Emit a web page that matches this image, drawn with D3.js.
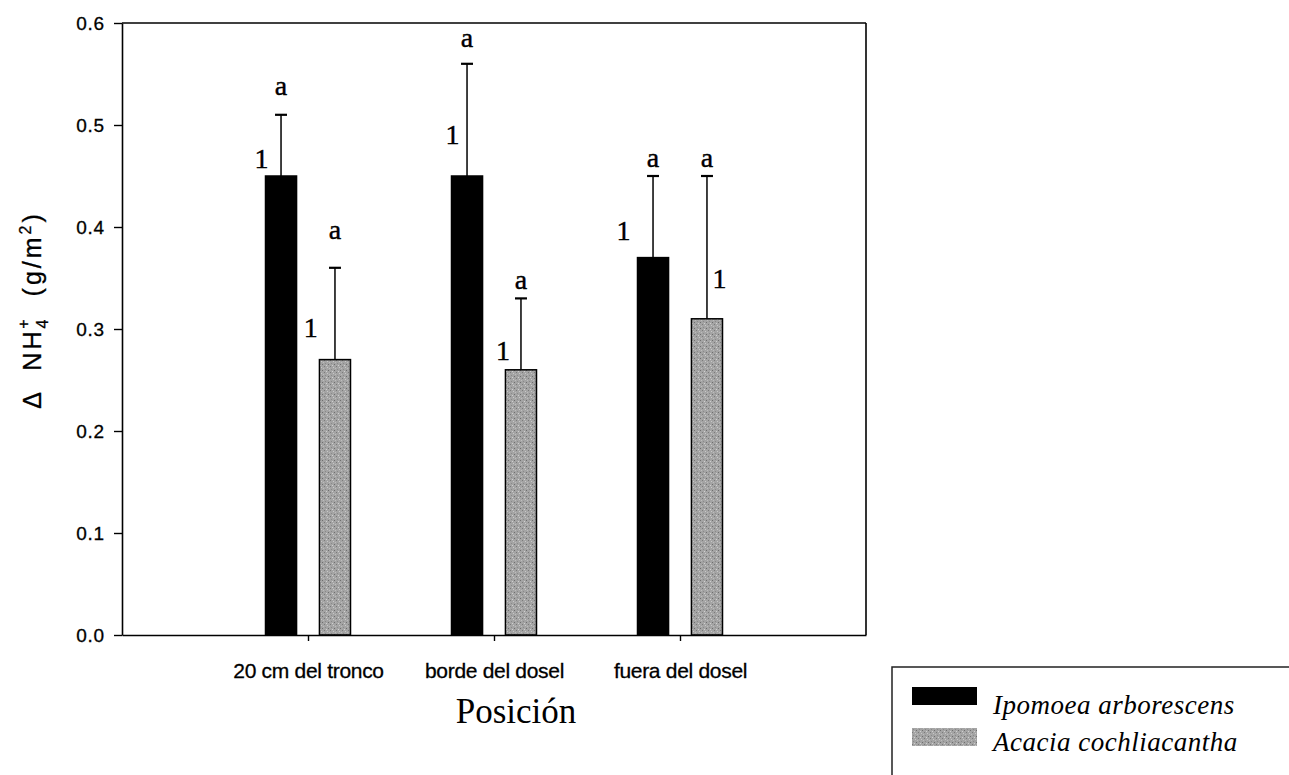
<!DOCTYPE html>
<html>
<head>
<meta charset="utf-8">
<script src="https://cdn.jsdelivr.net/npm/d3@7"></script>
<style>
  html, body { margin: 0; padding: 0; background: #fff; }
  svg { display: block; }
</style>
</head>
<body>
<div id="chart"></div>
<script>
// Categories and series
const categories = ['20 cm del tronco', 'borde del dosel', 'fuera del dosel'];
const seriesNames = ['Ipomoea arborescens', 'Acacia cochliacantha'];
const ipomoea = [0.45, 0.45, 0.37];
const ipomoeaTop = [0.51, 0.56, 0.45];   // top of error bar
const acacia = [0.27, 0.26, 0.31];
const acaciaTop = [0.36, 0.33, 0.45];
const yTicks = [0, 0.1, 0.2, 0.3, 0.4, 0.5, 0.6];

// Significance letters (value units)
const letterA = [[0.529, 0.576, 0.459], [0.388, 0.339, 0.459]];
const letter1 = [[0.458, 0.481, 0.387], [0.292, 0.270, 0.340]];
const letter1Dx = [[-0.105, -0.078, -0.159], [-0.13, -0.097, 0.067]];

const W = 1289, H = 775;
const svg = d3.select('#chart').append('svg')
    .attr('width', W).attr('height', H)
    .style('background', '#fff');

// gray speckled fill
const defs = svg.append('defs');
const pat = defs.append('pattern')
    .attr('id', 'speckle')
    .attr('width', 6).attr('height', 6)
    .attr('patternUnits', 'userSpaceOnUse');
pat.append('rect').attr('width', 6).attr('height', 6).attr('fill', '#a4a4a4');
[[0,0,'#7a7a7a'],[3,1,'#c8c8c8'],[1,3,'#8a8a8a'],[4,4,'#6e6e6e'],[5,2,'#bdbdbd'],[2,5,'#d0d0d0']]
  .forEach(p => pat.append('rect').attr('x', p[0]).attr('y', p[1])
      .attr('width', 1).attr('height', 1).attr('fill', p[2]));

const x = d3.scaleLinear().domain([0, 4]).range([122, 866]);
const y = d3.scaleLinear().domain([0, 0.6]).range([635, 23]);

const barW = 0.167, off = 0.145;
const serif = '"Liberation Serif", "Times New Roman", serif';
const sans = '"Liberation Sans", Arial, sans-serif';
const series = [
  { vals: ipomoea, tops: ipomoeaTop, fill: '#000', dx: -off },
  { vals: acacia, tops: acaciaTop, fill: 'url(#speckle)', dx: off }
];

// frame
const frame = svg.append('g').attr('stroke', '#000').attr('stroke-width', 1.6);
frame.append('line').attr('x1', x(0)).attr('x2', x(4)).attr('y1', y(0.6)).attr('y2', y(0.6));
frame.append('line').attr('x1', x(4)).attr('x2', x(4)).attr('y1', y(0.6)).attr('y2', y(0));

// bars
series.forEach((s, si) => {
  const g = svg.append('g');
  g.selectAll('rect').data(s.vals).enter().append('rect')
    .attr('x', (d, i) => x(i + 1 + s.dx - barW / 2))
    .attr('width', x(barW) - x(0))
    .attr('y', d => y(d))
    .attr('height', d => y(0) - y(d))
    .attr('fill', s.fill)
    .attr('stroke', '#000')
    .attr('stroke-width', 1.5);

  // error bars
  g.selectAll('line.err').data(s.vals).enter().append('line')
    .attr('x1', (d, i) => x(i + 1 + s.dx)).attr('x2', (d, i) => x(i + 1 + s.dx))
    .attr('y1', d => y(d)).attr('y2', (d, i) => y(s.tops[i]))
    .attr('stroke', '#000').attr('stroke-width', 1.5);
  g.selectAll('line.cap').data(s.tops).enter().append('line')
    .attr('x1', (d, i) => x(i + 1 + s.dx) - 6).attr('x2', (d, i) => x(i + 1 + s.dx) + 6)
    .attr('y1', d => y(d)).attr('y2', d => y(d))
    .attr('stroke', '#000').attr('stroke-width', 2.2);

  // letters
  g.selectAll('text.a').data(letterA[si]).enter().append('text')
    .attr('x', (d, i) => x(i + 1 + s.dx)).attr('y', d => y(d))
    .attr('text-anchor', 'middle')
    .attr('font-family', serif).attr('stroke', '#000').attr('stroke-width', 0.4)
    .attr('font-size', 28).text('a');
  g.selectAll('text.one').data(letter1[si]).enter().append('text')
    .attr('x', (d, i) => x(i + 1 + s.dx + letter1Dx[si][i])).attr('y', d => y(d))
    .attr('text-anchor', 'middle')
    .attr('font-family', serif).attr('stroke', '#000').attr('stroke-width', 0.4)
    .attr('font-size', 28).text('1');
});

// axes
const yAxis = svg.append('g')
    .attr('transform', `translate(${x(0)},0)`)
    .call(d3.axisLeft(y).tickValues(yTicks).tickFormat(d3.format('.1f'))
      .tickSize(8).tickSizeOuter(0).tickPadding(9));
const xAxis = svg.append('g')
    .attr('transform', `translate(0,${y(0)})`)
    .call(d3.axisBottom(x).tickValues([1, 2, 3]).tickFormat(d => categories[d - 1])
      .tickSize(6).tickSizeOuter(0).tickPadding(22));
[yAxis, xAxis].forEach(a => {
  a.select('.domain').attr('stroke', '#000').attr('stroke-width', 1.6);
  a.selectAll('.tick line').attr('stroke', '#000').attr('stroke-width', 1.4);
  a.selectAll('text').attr('fill', '#000').attr('font-family', sans)
    .attr('stroke', '#000').attr('stroke-width', 0.3);
});
yAxis.selectAll('text').attr('font-size', 19).attr('letter-spacing', 0.8).attr('dy', '0.36em');
xAxis.selectAll('text').attr('font-size', 21).attr('letter-spacing', -0.3);

// axis titles
const yt = svg.append('text')
    .attr('transform', 'translate(41,310) rotate(-90)')
    .attr('text-anchor', 'middle')
    .attr('font-family', sans)
    .attr('font-size', 25).attr('letter-spacing', 3)
    .attr('stroke', '#000').attr('stroke-width', 0.3)
    .attr('xml:space', 'preserve');
yt.append('tspan').text('Δ  NH');
yt.append('tspan').attr('font-size', 16).attr('dy', 7).text('4');
yt.append('tspan').attr('font-size', 16).attr('dy', -19).attr('dx', -12).text('+');
yt.append('tspan').attr('dy', 12).text('  (g/m');
yt.append('tspan').attr('font-size', 16).attr('dy', -10).text('2');
yt.append('tspan').attr('dy', 10).text(')');

svg.append('text')
    .attr('x', 516).attr('y', 723)
    .attr('text-anchor', 'middle')
    .attr('font-family', serif)
    .attr('font-size', 35)
    .text('Posición');

// legend
const lg = svg.append('g');
lg.append('path')
    .attr('d', `M892,775 V667 H${W}`)
    .attr('fill', 'none').attr('stroke', '#222').attr('stroke-width', 1.5);
const lfills = ['#000', 'url(#speckle)'];
seriesNames.forEach((name, i) => {
  lg.append('rect')
    .attr('x', 912).attr('y', 687 + i * 41)
    .attr('width', 65).attr('height', 18)
    .attr('fill', lfills[i]);
  lg.append('text')
    .attr('x', 993).attr('y', 714 + i * 37)
    .attr('font-family', serif)
    .attr('font-style', 'italic')
    .attr('font-size', 27).attr('letter-spacing', 0.5)
    .text(name);
});
</script>
</body>
</html>
